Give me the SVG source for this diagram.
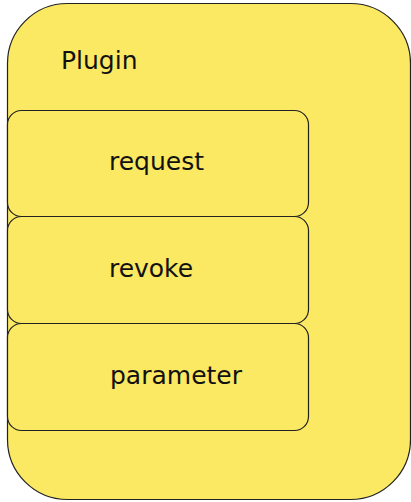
<svg xmlns="http://www.w3.org/2000/svg" width="411" height="502" viewBox="0 0 411 502">
<style>
.box{fill:#fbe863;stroke:#222;stroke-width:1.2}
.t{font-family:"DejaVu Sans",sans-serif;font-size:25px;fill:#111}
</style>
<g id="plugin">
<rect class="box" x="7.5" y="3.5" width="403" height="496" rx="60" ry="60"/>
<text class="t" x="61" y="69">Plugin</text>
</g>
<g id="request">
<rect class="box" x="7.5" y="110.5" width="301" height="106" rx="14" ry="14"/>
<text class="t" x="156.5" y="170" text-anchor="middle">request</text>
</g>
<g id="revoke">
<rect class="box" x="7.5" y="216.5" width="301" height="107" rx="14" ry="14"/>
<text class="t" x="151" y="277" text-anchor="middle">revoke</text>
</g>
<g id="parameter">
<rect class="box" x="7.5" y="323.5" width="301" height="107" rx="14" ry="14"/>
<text class="t" x="176" y="384" text-anchor="middle">parameter</text>
</g>
<g id="connectors"></g>
</svg>
